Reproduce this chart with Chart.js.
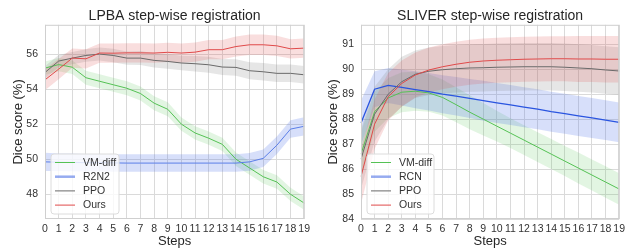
<!DOCTYPE html>
<html><head><meta charset="utf-8">
<script src="https://cdn.jsdelivr.net/npm/chart.js@4"></script>
<style>
html,body{margin:0;padding:0;background:#fff;}
#wrap{position:relative;width:629px;height:248px;overflow:hidden;}
#c1{position:absolute;left:0;top:0;}
#c2{position:absolute;left:314px;top:0;}
</style></head><body>
<div id="wrap"><canvas id="c1" width="314" height="248"></canvas><canvas id="c2" width="315" height="248"></canvas></div>
<script>
// ---------- data ----------
const steps = ['0','1','2','3','4','5','6','7','8','9','10','11','12','13','14','15','16','17','18','19'];

// LPBA
const lpbaVM     = [55.2, 55.4, 55.25, 54.65, 54.45, 54.25, 54.05, 53.75, 53.2, 52.85, 52.0, 51.5, 51.2, 50.85, 50.0, 49.5, 49.0, 48.7, 48.0, 47.5];
const lpbaVMsd   = [0.38, 0.38, 0.38, 0.4, 0.4, 0.4, 0.4, 0.4, 0.4, 0.4, 0.38, 0.38, 0.38, 0.38, 0.38, 0.38, 0.38, 0.38, 0.38, 0.38];
const lpbaR2N2   = [49.85, 49.83, 49.82, 49.8, 49.8, 49.79, 49.78, 49.78, 49.78, 49.78, 49.78, 49.78, 49.78, 49.78, 49.78, 49.85, 50.05, 50.8, 51.72, 51.88];
const lpbaR2N2sd = [0.52, 0.5, 0.5, 0.5, 0.5, 0.5, 0.5, 0.5, 0.5, 0.5, 0.5, 0.5, 0.5, 0.5, 0.5, 0.5, 0.5, 0.5, 0.5, 0.52];
const lpbaPPO    = [54.95, 55.6, 55.77, 55.92, 56.0, 55.92, 55.77, 55.77, 55.64, 55.58, 55.49, 55.45, 55.39, 55.26, 55.24, 55.05, 54.99, 54.9, 54.9, 54.82];
const lpbaPPOsd  = [0.35, 0.35, 0.35, 0.36, 0.37, 0.38, 0.38, 0.4, 0.4, 0.42, 0.42, 0.44, 0.45, 0.46, 0.47, 0.48, 0.5, 0.5, 0.5, 0.5];
const lpbaOurs   = [54.53, 55.14, 55.77, 55.73, 56.06, 56.05, 56.07, 56.07, 56.06, 56.1, 56.06, 56.11, 56.25, 56.25, 56.43, 56.53, 56.53, 56.47, 56.3, 56.34];
const lpbaOurssd = [0.6, 0.58, 0.55, 0.55, 0.55, 0.55, 0.55, 0.55, 0.55, 0.55, 0.55, 0.55, 0.55, 0.55, 0.57, 0.58, 0.58, 0.58, 0.55, 0.55];
const lpbaYTicks = [48, 50, 52, 54, 56];

// SLIVER
const slVM     = [86.6, 88.3, 88.85, 89.08, 89.12, 89.05, 88.87, 88.58, 88.28, 88.0, 87.72, 87.44, 87.16, 86.88, 86.6, 86.32, 86.04, 85.76, 85.48, 85.2];
const slVMsd   = [0.9, 0.8, 0.8, 0.8, 0.78, 0.75, 0.72, 0.7, 0.68, 0.65, 0.62, 0.6, 0.6, 0.6, 0.6, 0.6, 0.62, 0.62, 0.63, 0.63];
const slRCN    = [87.85, 89.2, 89.35, 89.27, 89.18, 89.1, 89.0, 88.92, 88.83, 88.74, 88.65, 88.57, 88.48, 88.4, 88.3, 88.22, 88.13, 88.05, 87.96, 87.87];
const slRCNsd  = [0.9, 0.72, 0.7, 0.72, 0.74, 0.75, 0.76, 0.77, 0.78, 0.8, 0.8, 0.8, 0.8, 0.8, 0.8, 0.8, 0.8, 0.8, 0.8, 0.8];
const slPPO    = [86.4, 88.2, 89.0, 89.5, 89.8, 89.92, 89.98, 90.02, 90.05, 90.06, 90.08, 90.09, 90.1, 90.1, 90.1, 90.08, 90.05, 90.02, 89.97, 89.93];
const slPPOsd  = [1.2, 1.1, 1.0, 1.0, 0.95, 0.95, 0.95, 0.95, 0.95, 0.95, 0.95, 0.95, 0.95, 0.95, 0.95, 0.95, 0.95, 0.95, 0.95, 0.95];
const slOurs   = [85.7, 87.8, 88.9, 89.43, 89.77, 89.97, 90.1, 90.2, 90.28, 90.33, 90.36, 90.38, 90.4, 90.41, 90.42, 90.42, 90.41, 90.41, 90.4, 90.4];
const slOurssd = [1.1, 1.0, 0.95, 0.92, 0.9, 0.9, 0.9, 0.9, 0.9, 0.9, 0.9, 0.9, 0.9, 0.9, 0.9, 0.9, 0.92, 0.92, 0.93, 0.93];
const slYTicks = [84, 85, 86, 87, 88, 89, 90, 91];

// ---------- styles ----------
const FONT = "'Liberation Sans', Arial, sans-serif";
const C_GREEN = '#55c255', B_GREEN = 'rgba(85,194,85,0.17)';
const C_BLUE_L = '#5b7fe8', C_BLUE_R = '#2a55e0', B_BLUE = 'rgba(75,110,230,0.22)';
const C_GRAY = '#6a6a6a', B_GRAY = 'rgba(128,128,128,0.2)';
const C_RED = '#e04a4a', B_RED = 'rgba(220,70,70,0.18)';
const GRID = '#dadada';

const boxPlugin = {
  id: 'boxLegend',
  afterDatasetsDraw(chart, args, opts) {
    const {ctx, chartArea: a} = chart;
    ctx.save();
    ctx.strokeStyle = '#cfcfcf';
    ctx.lineWidth = 1;
    ctx.strokeRect(a.left + 0.5, a.top + 0.5, a.right - a.left - 1, a.bottom - a.top - 1);
    // legend
    const L = opts;
    const x = a.left + L.dx, h = L.h, y = a.bottom - L.dy - h, w = L.w;
    const r = 3;
    ctx.beginPath();
    ctx.moveTo(x + r, y); ctx.lineTo(x + w - r, y); ctx.quadraticCurveTo(x + w, y, x + w, y + r);
    ctx.lineTo(x + w, y + h - r); ctx.quadraticCurveTo(x + w, y + h, x + w - r, y + h);
    ctx.lineTo(x + r, y + h); ctx.quadraticCurveTo(x, y + h, x, y + h - r);
    ctx.lineTo(x, y + r); ctx.quadraticCurveTo(x, y, x + r, y);
    ctx.closePath();
    ctx.fillStyle = 'rgba(255,255,255,0.8)';
    ctx.fill();
    ctx.strokeStyle = '#dcdcdc';
    ctx.stroke();
    ctx.font = '10.5px ' + FONT;
    ctx.textBaseline = 'middle';
    ctx.textAlign = 'left';
    L.items.forEach((it, i) => {
      const yy = y + 8.5 + i * 14.2;
      ctx.beginPath();
      ctx.strokeStyle = it.color;
      ctx.lineWidth = it.lw;
      ctx.moveTo(x + 4, yy); ctx.lineTo(x + 24, yy);
      ctx.stroke();
      ctx.fillStyle = '#333';
      ctx.fillText(it.label, x + 32, yy + 0.5);
    });
    ctx.restore();
  }
};

function band(mean, sd, color, ord, idx) {
  const up = mean.map((v, i) => v + sd[i]);
  const lo = mean.map((v, i) => v - sd[i]);
  return [
    {data: up, borderWidth: 0, pointRadius: 0, fill: false, order: ord, tension: 0},
    {data: lo, borderWidth: 0, pointRadius: 0, fill: idx, backgroundColor: color, order: ord, tension: 0}
  ];
}
function line(mean, color, w, ord) {
  return {data: mean, borderColor: color, borderWidth: w, pointRadius: 0, fill: false, order: ord, tension: 0};
}

function makeChart(id, title, series, yMin, yMax, yTicks, yWidth, yTitlePad, legendCfg) {
  const ds = [];
  series.forEach((s, k) => { ds.push(...band(s.mean, s.sd, s.band, 20 - k, 2 * k)); });
  series.forEach((s, k) => { ds.push(line(s.mean, s.color, s.lw, 3 - k)); });
  return new Chart(document.getElementById(id), {
    type: 'line',
    data: {labels: steps, datasets: ds},
    plugins: [boxPlugin],
    options: {
      responsive: false,
      animation: false,
      events: [],
      layout: {padding: {left: 0, right: 9, top: 0, bottom: 0}},
      plugins: {
        legend: {display: false},
        tooltip: {enabled: false},
        title: {display: true, text: title, fullSize: false, color: '#262626',
                font: {family: FONT, size: 14, weight: 'normal'}, padding: {top: 8, bottom: 0}},
        filler: {propagate: false},
        boxLegend: legendCfg
      },
      scales: {
        x: {
          type: 'category', offset: false,
          grid: {color: GRID, lineWidth: 1, drawTicks: false},
          border: {display: false},
          ticks: {color: '#333', font: {family: FONT, size: 10.5}, padding: 4, maxRotation: 0, autoSkip: false},
          title: {display: true, text: 'Steps', color: '#262626', font: {family: FONT, size: 13}, padding: {top: 0, bottom: -1}},
          afterFit(s) { s.height = 29; }
        },
        y: {
          min: yMin, max: yMax,
          grid: {color: GRID, lineWidth: 1, drawTicks: false},
          border: {display: false},
          ticks: {color: '#333', font: {family: FONT, size: 10.5}, padding: 7},
          afterBuildTicks(s) { s.ticks = yTicks.map(v => ({value: v})); },
          title: {display: true, text: 'Dice score (%)', color: '#262626', font: {family: FONT, size: 13}, padding: {top: yTitlePad, bottom: 0}},
          afterFit(s) { s.width = yWidth; }
        }
      }
    }
  });
}

makeChart('c1', 'LPBA step-wise registration', [
  {mean: lpbaVM, sd: lpbaVMsd, color: C_GREEN, band: B_GREEN, lw: 1},
  {mean: lpbaR2N2, sd: lpbaR2N2sd, color: C_BLUE_L, band: B_BLUE, lw: 1},
  {mean: lpbaPPO, sd: lpbaPPOsd, color: C_GRAY, band: B_GRAY, lw: 1},
  {mean: lpbaOurs, sd: lpbaOurssd, color: C_RED, band: B_RED, lw: 1}
], 46.59, 57.67, lpbaYTicks, 45, 11, {
  dx: 6, dy: 5, w: 68, h: 60,
  items: [
    {label: 'VM-diff', color: C_GREEN, lw: 1},
    {label: 'R2N2', color: 'rgba(80,115,230,0.6)', lw: 2.5},
    {label: 'PPO', color: C_GRAY, lw: 1},
    {label: 'Ours', color: C_RED, lw: 1}
  ]
});

makeChart('c2', 'SLIVER step-wise registration', [
  {mean: slVM, sd: slVMsd, color: C_GREEN, band: B_GREEN, lw: 1},
  {mean: slRCN, sd: slRCNsd, color: C_BLUE_R, band: B_BLUE, lw: 1.3},
  {mean: slPPO, sd: slPPOsd, color: C_GRAY, band: B_GRAY, lw: 1},
  {mean: slOurs, sd: slOurssd, color: C_RED, band: B_RED, lw: 1}
], 84, 91.78, slYTicks, 47, 12, {
  dx: 6, dy: 5, w: 67, h: 60,
  items: [
    {label: 'VM-diff', color: C_GREEN, lw: 1},
    {label: 'RCN', color: 'rgba(80,115,230,0.6)', lw: 2.5},
    {label: 'PPO', color: C_GRAY, lw: 1},
    {label: 'Ours', color: C_RED, lw: 1}
  ]
});
</script>
</body></html>
